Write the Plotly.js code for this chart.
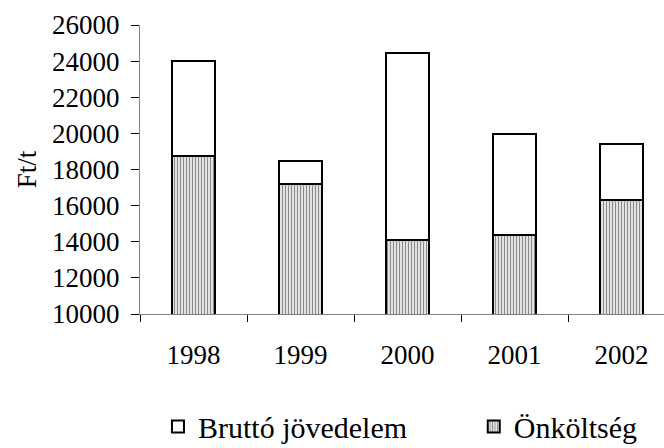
<!DOCTYPE html>
<html>
<head>
<meta charset="utf-8">
<script src="https://cdn.plot.ly/plotly-3.0.1.min.js"></script>
<style>html,body{margin:0;padding:0;background:#fff;}#chart{width:664px;height:448px;}</style>
</head>
<body>
<div id="chart"></div>
<script>
var years = ['1998', '1999', '2000', '2001', '2002'];
var totalIncome = [24000, 18450, 24450, 19950, 19400];
var unitCost = [18750, 17200, 14100, 14350, 16300];
var grossIncome = totalIncome.map(function (t, i) { return t - unitCost[i]; });
var yTicks = [10000, 12000, 14000, 16000, 18000, 20000, 22000, 24000, 26000];

var fam = '"Liberation Serif", "Times New Roman", serif';
var font = {family: fam, size: 27, color: '#000'};
var legendFont = {family: fam, size: 30, color: '#000'};

var traces = [
  {
    type: 'bar', x: years, y: unitCost, name: 'Önköltség',
    width: 0.41, legend: 'legend2',
    marker: {color: '#ffffff', line: {color: '#000', width: 2},
      pattern: {shape: '|', size: 3, solidity: 0.34, fgcolor: '#8a8a8a', bgcolor: '#e2e2e2', fillmode: 'replace'}},
    hoverinfo: 'none'
  },
  {
    type: 'bar', x: years, y: grossIncome, name: 'Bruttó jövedelem',
    width: 0.41, legend: 'legend',
    marker: {color: '#ffffff', line: {color: '#000', width: 2}},
    hoverinfo: 'none'
  }
];

var layout = {
  width: 664, height: 448,
  margin: {l: 140, r: 0, t: 25, b: 134},
  paper_bgcolor: '#fff', plot_bgcolor: '#fff',
  barmode: 'stack',
  font: font,
  showlegend: true,
  legend: {orientation: 'h', xref: 'container', yref: 'container', x: 0.2379, xanchor: 'left',
    y: 0.048, yanchor: 'middle', font: legendFont, bgcolor: 'rgba(0,0,0,0)'},
  legend2: {orientation: 'h', xref: 'container', yref: 'container', x: 0.7135, xanchor: 'left',
    y: 0.048, yanchor: 'middle', font: legendFont, bgcolor: 'rgba(0,0,0,0)'},
  xaxis: {
    type: 'category', range: [-0.5, 4.397], tickson: 'boundaries',
    ticks: 'outside', ticklen: 7, tickcolor: '#000', tickwidth: 1,
    showline: true, linecolor: '#808080', linewidth: 1,
    showgrid: false, zeroline: false, ticklabelstandoff: 17,
    tickfont: font
  },
  yaxis: {
    range: [10000, 26000], tickvals: yTicks, ticktext: yTicks.map(String),
    ticks: 'outside', ticklen: 8, tickcolor: '#000', tickwidth: 1,
    showline: true, linecolor: '#808080', linewidth: 1,
    showgrid: false, zeroline: false, ticklabelstandoff: 6,
    tickfont: font,
    title: {text: 'Ft/t', font: font, standoff: 7}
  }
};

Plotly.newPlot('chart', traces, layout, {staticPlot: true, displayModeBar: false});
</script>
</body>
</html>
